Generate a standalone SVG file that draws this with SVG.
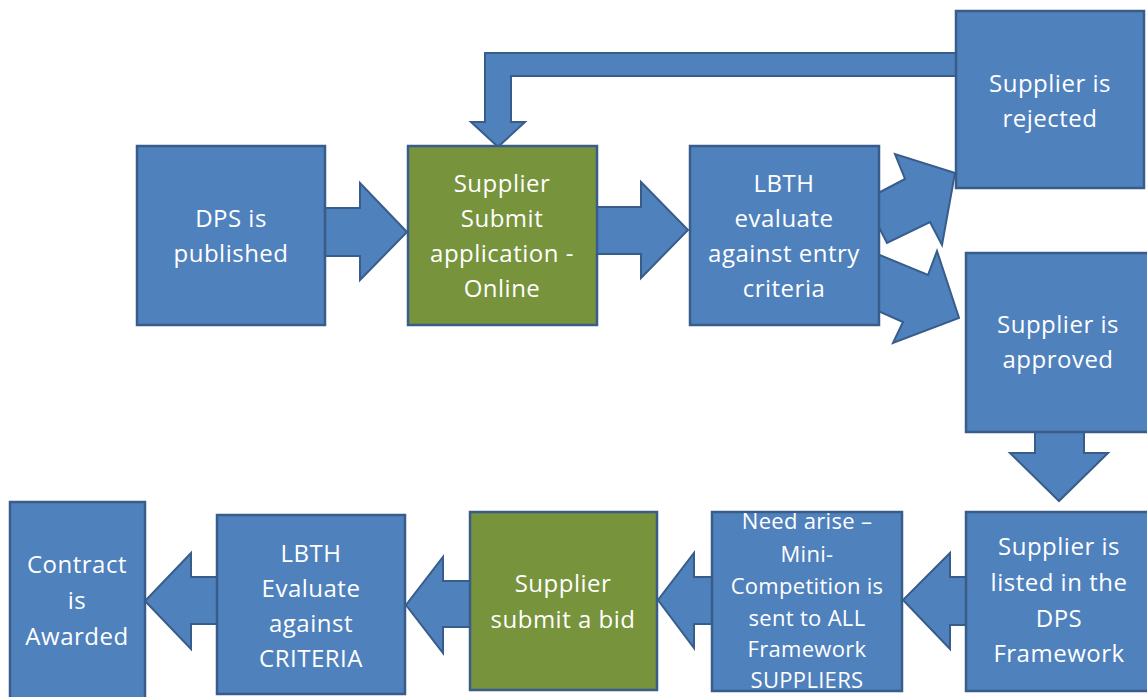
<svg xmlns="http://www.w3.org/2000/svg" width="1147" height="697" viewBox="0 0 1147 697">
<style>
.box{fill:#4F81BD;stroke:#385D8A;stroke-width:2.5}
.green{fill:#77933C;stroke:#385D8A;stroke-width:2.5}
.arr{fill:#4F81BD;stroke:#385D8A;stroke-width:2;stroke-linejoin:miter}
text{font-family:"Open Sans","Liberation Sans",sans-serif;font-size:24px;fill:#FFFFFF;text-anchor:middle;letter-spacing:0.5px}
.sm{font-size:22px;letter-spacing:0.3px}
</style>
<rect width="1147" height="697" fill="#FFFFFF"/>
<g id="connectors">
<polygon class="arr" points="318,208 360,208 360,183 407,232 360,280 360,256 318,256"/>
<polygon class="arr" points="590,207 641,207 641,182 688,230 641,278 641,254 590,254"/>
<polygon class="arr" points="865,200 905,179 895,154 955,173 942,245 930,222 887,243"/>
<polygon class="arr" points="870,251 928,275 937,251 959,318 893,343 903,322 860,303"/>
<polygon class="arr" points="962,53 485,53 485,122 471,122 498,147 525,122 511,122 511,76 962,76"/>
<polygon class="arr" points="1035,426 1084,426 1084,453 1108,453 1059,501 1010,453 1035,453"/>
<polygon class="arr" points="972,577 950,577 950,553 903,600 950,649 950,625 972,625"/>
<polygon class="arr" points="718,577 694,577 694,553 658,600 694,648 694,624 718,624"/>
<polygon class="arr" points="475,581 443,581 443,557 406,605 443,653 443,627 475,627"/>
<polygon class="arr" points="222,577 191,577 191,553 145,601 191,649 191,624 222,624"/>
</g>
<g id="dps">
<rect class="box" x="137" y="146" width="188" height="179"/>
<text x="231" y="227">DPS is</text>
<text x="231" y="262">published</text>
</g>
<g id="submit">
<rect class="green" x="408" y="146" width="189" height="179"/>
<text x="502" y="192">Supplier</text>
<text x="502" y="227">Submit</text>
<text x="502" y="262">application -</text>
<text x="502" y="297">Online</text>
</g>
<g id="evaluate">
<rect class="box" x="690" y="146" width="189" height="179"/>
<text x="784" y="192">LBTH</text>
<text x="784" y="227">evaluate</text>
<text x="784" y="262">against entry</text>
<text x="784" y="297">criteria</text>
</g>
<g id="rejected">
<rect class="box" x="956" y="11" width="188" height="177"/>
<text x="1050" y="92">Supplier is</text>
<text x="1050" y="127">rejected</text>
</g>
<g id="approved">
<rect class="box" x="966" y="253" width="186" height="179"/>
<text x="1058" y="333">Supplier is</text>
<text x="1058" y="368">approved</text>
</g>
<g id="listed">
<rect class="box" x="966" y="512" width="186" height="179"/>
<text x="1059" y="555">Supplier is</text>
<text x="1059" y="591">listed in the</text>
<text x="1059" y="627">DPS</text>
<text x="1059" y="662">Framework</text>
</g>
<g id="need">
<rect class="box" x="712" y="512" width="190" height="179"/>
<text class="sm" x="807" y="529">Need arise –</text>
<text class="sm" x="807" y="562">Mini-</text>
<text class="sm" x="807" y="594">Competition is</text>
<text class="sm" x="807" y="626">sent to ALL</text>
<text class="sm" x="807" y="657">Framework</text>
<text class="sm" x="807" y="688">SUPPLIERS</text>
</g>
<g id="bid">
<rect class="green" x="470" y="512" width="187" height="178"/>
<text x="563" y="592">Supplier</text>
<text x="563" y="628">submit a bid</text>
</g>
<g id="criteria">
<rect class="box" x="217" y="515" width="188" height="179"/>
<text x="311" y="562">LBTH</text>
<text x="311" y="597">Evaluate</text>
<text x="311" y="632">against</text>
<text x="311" y="667">CRITERIA</text>
</g>
<g id="contract">
<rect class="box" x="10" y="502" width="135" height="200"/>
<text x="77" y="573">Contract</text>
<text x="77" y="609">is</text>
<text x="77" y="645">Awarded</text>
</g>
</svg>
